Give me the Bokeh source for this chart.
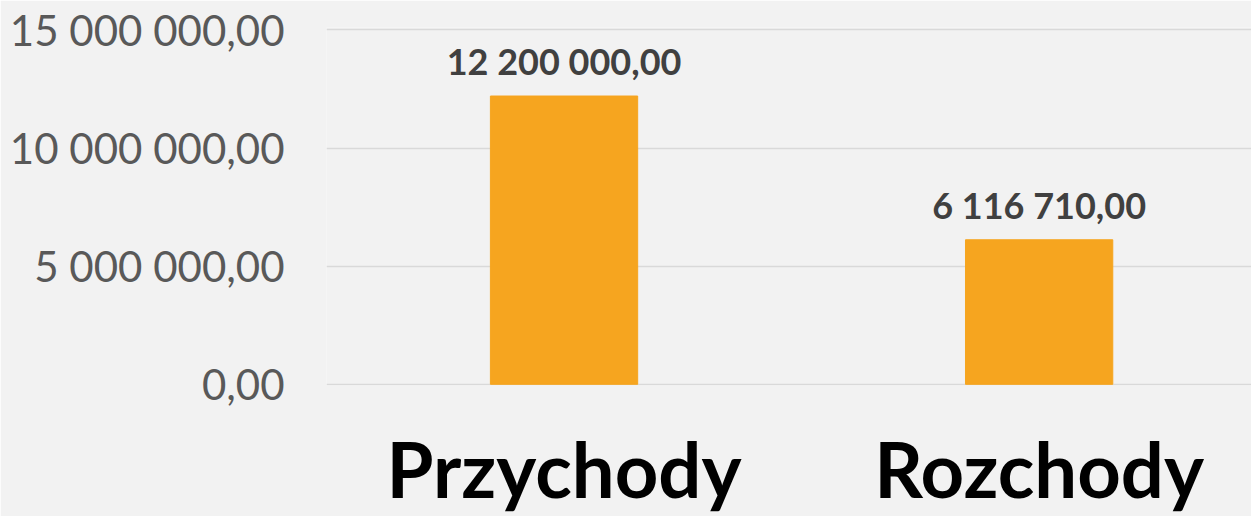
from bokeh.plotting import figure
from bokeh.models import ColumnDataSource, FixedTicker, Range1d, LabelSet
from bokeh.core.properties import value
from bokeh.embed import file_html
from bokeh.resources import INLINE

categories = ["Przychody", "Rozchody"]
values = [12200000.00, 6116710.00]
y_ticks = [0, 5000000, 10000000, 15000000]
y_tick_labels = ["0,00", "5 000 000,00", "10 000 000,00", "15 000 000,00"]


def fmt(v):
    s = f"{v:,.2f}"
    return s.replace(",", " ").replace(".", ",")


xs = list(range(len(categories)))
src = ColumnDataSource(dict(x=xs, top=values, label=[fmt(v) for v in values]))

BG = "#f2f2f2"
FONT = "Lato"

p = figure(frame_width=925, frame_height=358, output_backend="svg", toolbar_location=None,
           x_range=Range1d(-0.5, 1.447), y_range=Range1d(-50000, 15100000),
           min_border_left=326, min_border_right=0, min_border_top=27,
           min_border_bottom=131, background_fill_color=BG, border_fill_color=BG)
p.outline_line_color = None

p.vbar(x="x", top="top", width=0.31, source=src, color="#F6A51F")

labels = LabelSet(x="x", y="top", text="label", source=src, text_align="center",
                  text_baseline="bottom", y_offset=13, text_font=value(FONT),
                  text_font_style="bold", text_font_size="36px", text_color="#404040")
p.add_layout(labels)

p.xaxis.ticker = FixedTicker(ticks=xs)
p.xaxis.major_label_overrides = {i: c for i, c in zip(xs, categories)}
p.xaxis.major_label_text_font = FONT
p.xaxis.major_label_text_font_style = "bold"
p.xaxis.major_label_text_font_size = "76px"
p.xaxis.major_label_text_color = "#000000"
p.xaxis.major_label_standoff = 31
p.xaxis.axis_line_color = None
p.xaxis.major_tick_line_color = None
p.xaxis.minor_tick_line_color = None

p.yaxis.ticker = FixedTicker(ticks=y_ticks)
p.yaxis.major_label_overrides = {t: l for t, l in zip(y_ticks, y_tick_labels)}
p.yaxis.major_label_text_font = FONT
p.yaxis.major_label_text_font_size = "42px"
p.yaxis.major_label_text_color = "#595959"
p.yaxis.major_label_standoff = 36
p.yaxis.axis_line_color = None
p.yaxis.major_tick_line_color = None
p.yaxis.minor_tick_line_color = None

p.xgrid.grid_line_color = None
p.ygrid.grid_line_color = "#d9d9d9"
p.ygrid.grid_line_width = 1.5

open("out.html", "w").write(file_html(p, INLINE))
